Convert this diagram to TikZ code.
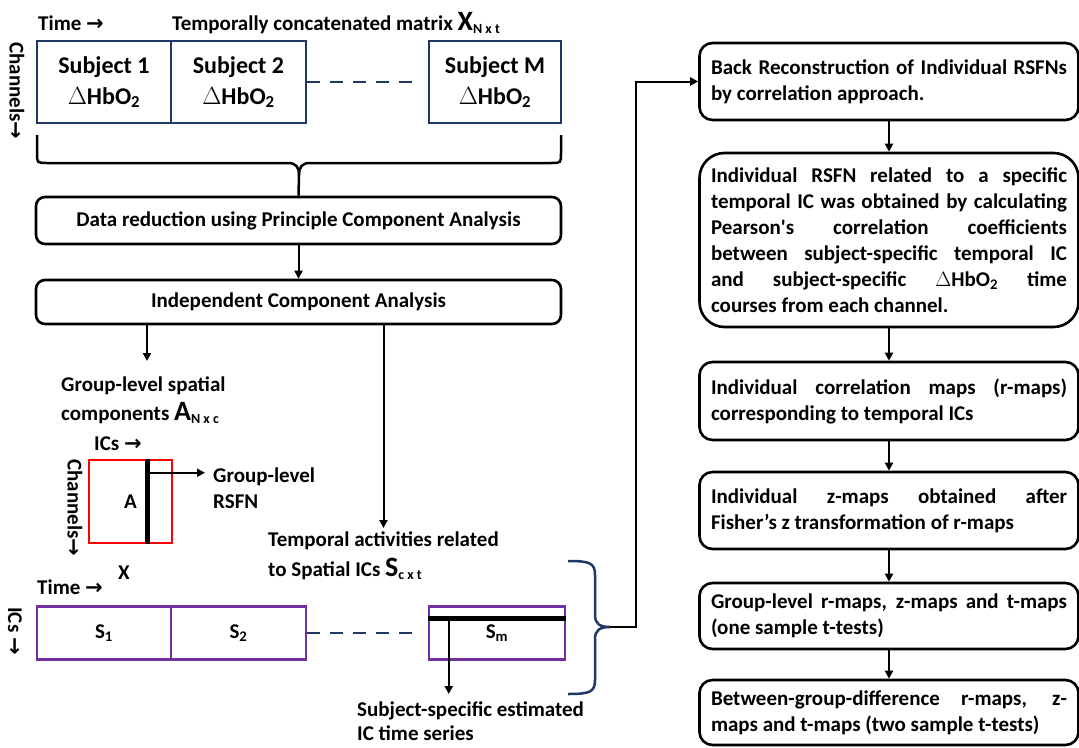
\documentclass[tikz,border=0pt]{standalone}
\usepackage{fontspec}
\setmainfont{Carlito}
\newfontfamily\arrowfont{DejaVu Sans}
\usepackage{xcolor}
\usetikzlibrary{arrows.meta}

\definecolor{navy}{RGB}{31,56,100}
\definecolor{icpurple}{RGB}{112,48,160}

\hyphenpenalty=10000
\exhyphenpenalty=10000

\newcommand{\rarr}{{\arrowfont →}}
\newcommand{\bigsub}[2]{{\fontsize{28}{28}\selectfont #1}\raisebox{-3pt}{\fontsize{14}{14}\selectfont #2}}
\newcommand{\hbo}{$\Delta$HbO\textsubscript{2}}

\begin{document}
\begin{tikzpicture}[x=1pt,y=-1pt,
    font=\bfseries\fontsize{21}{26}\selectfont,
    txt/.style={inner sep=0pt},
    arr/.style={line width=2pt,-{Triangle[length=8pt,width=8pt]}},
    subjbox/.style={draw=navy,line width=2.5pt,inner sep=0pt,minimum height=82,align=center,font=\bfseries\fontsize{24}{31}\selectfont},
    icbox/.style={draw=icpurple,line width=2.5pt,inner sep=0pt,minimum height=53},
    flowbox/.style={draw,line width=2.6pt,rounded corners=9pt,minimum width=525,inner sep=0pt},
    stagebox/.style={draw,line width=2.6pt,rounded corners=13pt,text width=356pt,align=justify,inner xsep=11.5pt,inner ysep=0pt},
    gap/.style={draw=navy,line width=2.5pt,dash pattern=on 13pt off 10pt},
    bar/.style={line width=5pt},
    brk/.style={line width=2.5pt},
]
\useasboundingbox (0,0) rectangle (1079,747);

% concatenated data matrix
\node[txt,anchor=base west] (time1) at (38,30) {Time \rarr};
\node[txt,anchor=base west] (title) at (172,30) {Temporally concatenated matrix \bigsub{X}{N x t}};
\node[txt,rotate=-90] (chan1) at (17,91) {Channels\rarr};
\node[subjbox,minimum width=134] (sub1) at (104,82) {Subject 1\\\hbo};
\node[subjbox,minimum width=135] (sub2) at (238.5,82) {Subject 2\\\hbo};
\node[subjbox,minimum width=132] (subM) at (495,82) {Subject M\\\hbo};
\draw[gap] (sub2.east) -- ([xshift=-8pt]subM.west);

% PCA and ICA
\node[flowbox,minimum height=47] (pca) at (298.5,220.5) {Data reduction using Principle Component Analysis};
\node[flowbox,minimum height=44] (ica) at (298.5,302) {Independent Component Analysis};
\draw[brk] (37,135) -- (37,153) .. controls (37,163) .. (47,163) -- (288,163) .. controls (296,163) and (299,167) .. (299,175) -- (pca.north);
\draw[brk] (561,135) -- (561,153) .. controls (561,163) .. (551,163) -- (310,163) .. controls (302,163) and (299,167) .. (299,175);
\draw[arr] (pca) -- (ica);

% spatial maps
\node[txt,anchor=north west,align=left] (grp) at (61,377) {Group-level spatial\\[3pt]components \bigsub{A}{N x c}};
\coordinate (grptop) at (147,361);
\draw[arr] (ica.south -| grptop) -- (grptop);
\node[txt,anchor=base west] (icslab) at (94,450) {ICs \rarr};
\node[txt,rotate=-90] (chan2) at (75,508) {Channels\rarr};
\node[draw=red,line width=2.5pt,minimum width=83,minimum height=83,inner sep=0pt] (amat) at (130.5,501.5) {A};
\draw[bar] ([xshift=16.5pt]amat.north) -- ([xshift=16.5pt]amat.south);
\coordinate (abar) at ([xshift=16.5pt,yshift=-14pt]amat.north);
\node[txt,anchor=north west,align=left] (rsfn) at (213,468) {Group-level\\RSFN};
\draw[arr,shorten >=8pt] (abar) -- (abar -| rsfn.west);

% time courses
\node[txt,anchor=base] (xlab) at (124,579) {X};
\node[txt,anchor=base west] (time2) at (37,594) {Time \rarr};
\node[txt,rotate=-90] (icsrot) at (15,631) {ICs \rarr};
\node[icbox,minimum width=134] (s1) at (104,633) {S\textsubscript{1}};
\node[icbox,minimum width=135] (s2) at (238.5,633) {S\textsubscript{2}};
\node[icbox,minimum width=136] (sm) at (497,633) {S\textsubscript{m}};
\draw[gap] (s2.east) -- ([xshift=-8pt]sm.west);
\draw[bar] ([yshift=-13pt]sm.north west) -- ([yshift=-13pt]sm.north east);
\node[txt,anchor=north west,align=left] (tmp) at (268,532) {Temporal activities related\\[4pt]to Spatial ICs \bigsub{S}{c x t}};
\draw[arr,shorten >=4pt] (ica.south -| tmp.north) -- (tmp.north);
\coordinate (smbar) at ([xshift=21pt,yshift=-13pt]sm.north west);
\node[txt,anchor=north west,align=left] (est) at (357,702) {Subject-specific estimated\\[-2pt]IC time series};
\draw[arr,shorten >=8pt] (smbar) -- (smbar |- est.north);

% brace over the subject ICs
\draw[brk,navy] (568,561) .. controls (590,561) and (595,563) .. (595,575) -- (595,615) .. controls (595,624) and (600,627) .. (610,627);
\draw[brk,navy] (568,694) .. controls (590,694) and (595,692) .. (595,680) -- (595,639) .. controls (595,630) and (600,627) .. (610,627);
\coordinate (btip) at (610,627);

% back reconstruction chain
\node[stagebox,minimum height=77] (back) at (889,81.5) {Back Reconstruction of Individual RSFNs\linebreak by correlation approach.};
\node[stagebox,rounded corners=25pt,minimum height=174] (indiv) at (889,240) {Individual RSFN related to a specific\linebreak temporal IC was obtained by calculating\linebreak Pearson\textquotesingle s correlation coefficients\linebreak between subject-specific temporal IC\linebreak and subject-specific \hbo{} time\linebreak courses from each channel.};
\node[stagebox,minimum height=78] (rmaps) at (889,401) {Individual correlation maps (r-maps)\linebreak corresponding to temporal ICs};
\node[stagebox,minimum height=77] (zmaps) at (889,510.5) {Individual z-maps obtained after\linebreak Fisher’s z transformation of r-maps};
\node[stagebox,minimum height=66] (grpmaps) at (889,616) {Group-level r-maps, z-maps and t-maps\linebreak (one sample t-tests)};
\node[stagebox,minimum height=65] (diff) at (889,712.5) {Between-group-difference r-maps, z-\linebreak maps and t-maps (two sample t-tests)};
\draw[arr] (btip) -- ++(26,0) |- (back.west);
\draw[arr] (back) -- (indiv);
\draw[arr] (indiv) -- (rmaps);
\draw[arr] (rmaps) -- (zmaps);
\draw[arr] (zmaps) -- (grpmaps);
\draw[arr] (grpmaps) -- (diff);
\end{tikzpicture}
\end{document}
